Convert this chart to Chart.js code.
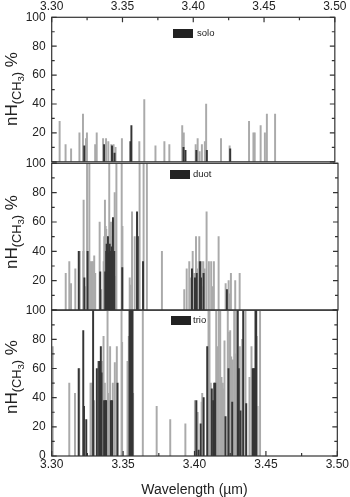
<!DOCTYPE html>
<html>
<head>
<meta charset="utf-8">
<script src="https://cdn.jsdelivr.net/npm/chart.js@4.4.0/dist/chart.umd.min.js"></script>
<style>
    body { margin: 0; background: #fff; }
    #wrap { position: relative; width: 350px; height: 497px; overflow: hidden; font-family: 'Liberation Sans', Arial, sans-serif; color: #222; }
    #wrap canvas { position: absolute; left: 0; }
    .ytitle { position: absolute; left: 12px; font-size: 17px; line-height: 17px; white-space: nowrap; transform: translate(-50%, -50%) rotate(-90deg); }
    .ytitle sub { font-size: 0.75em; vertical-align: -0.3em; line-height: 0; }
    .keybox { position: absolute; width: 20px; height: 9px; background: #222; }
    .keytxt { position: absolute; font-size: 9.5px; line-height: 10px; }
</style>
</head>
<body>
<div id="wrap">
    <canvas id="solo" width="350" height="175" style="top:0px"></canvas>
    <canvas id="duot" width="350" height="175" style="top:150px"></canvas>
    <canvas id="trio" width="350" height="200" style="top:297px"></canvas>

    <div class="ytitle" style="top:89px">nH<sub>(CH<sub>3</sub>)</sub> %</div>
    <div class="ytitle" style="top:232px">nH<sub>(CH<sub>3</sub>)</sub> %</div>
    <div class="ytitle" style="top:377px">nH<sub>(CH<sub>3</sub>)</sub> %</div>

    <div class="keybox" style="left:173px; top:29px"></div>
    <div class="keytxt" style="left:197px; top:28px">solo</div>
    <div class="keybox" style="left:170px; top:170px"></div>
    <div class="keytxt" style="left:193px; top:169px">duot</div>
    <div class="keybox" style="left:171px; top:316px"></div>
    <div class="keytxt" style="left:193px; top:315px">trio</div>
</div>
<script>
'use strict';

// [wavelength (µm), nH(CH3) %] - gray sticks and dark sticks for each group
var soloGray = [[3.3056, 28], [3.3098, 12], [3.3137, 9], [3.3196, 20], [3.3221, 33], [3.3242, 16], [3.3249, 20],
    [3.3307, 12], [3.3318, 20], [3.3363, 16], [3.3384, 16], [3.3400, 14], [3.3421, 12], [3.3437, 12], [3.3451, 10],
    [3.3496, 16], [3.3619, 14], [3.3654, 43], [3.3733, 11], [3.3796, 14], [3.3831, 12], [3.3922, 25],
    [3.3933, 20], [3.4017, 12], [3.4031, 16], [3.4045, 7], [3.4061, 12], [3.4082, 14], [3.4091, 40], [3.4196, 16],
    [3.4257, 11], [3.4394, 28], [3.4425, 20], [3.4434, 20], [3.4476, 25], [3.4506, 20], [3.4520, 33], [3.4578, 33]];
var soloDark = [[3.3230, 11], [3.3370, 12], [3.3426, 11], [3.3444, 6], [3.3556, 14], [3.3563, 25], [3.3931, 10],
    [3.3945, 8], [3.4022, 8], [3.4096, 8], [3.4261, 9]];

var duotGray = [[3.3098, 25], [3.3123, 33], [3.3135, 18], [3.3165, 28], [3.3196, 40], [3.3221, 40], [3.3223, 75],
    [3.3242, 16], [3.3247, 100], [3.3263, 100], [3.3270, 33], [3.3279, 33], [3.3288, 33], [3.3297, 37], [3.3304, 25],
    [3.3335, 60], [3.3346, 14], [3.3363, 33], [3.3367, 50], [3.3372, 75], [3.3377, 57], [3.3381, 55], [3.3386, 50],
    [3.3402, 100], [3.3409, 50], [3.3414, 60], [3.3423, 50], [3.3440, 80], [3.3449, 23], [3.3452, 100], [3.3489, 100],
    [3.3494, 57], [3.3545, 22], [3.3554, 17], [3.3561, 67], [3.3580, 50], [3.3607, 50], [3.3614, 100], [3.3642, 100],
    [3.3665, 100], [3.3770, 40],
    [3.3926, 14], [3.3943, 28], [3.3961, 33], [3.3968, 22], [3.3985, 40], [3.3994, 25], [3.4008, 50], [3.4020, 28],
    [3.4027, 33], [3.4031, 50], [3.4047, 33], [3.4052, 16], [3.4059, 33], [3.4068, 28], [3.4082, 67], [3.4098, 33],
    [3.4114, 33], [3.4126, 16], [3.4133, 33], [3.4166, 50], [3.4215, 18], [3.4236, 20], [3.4240, 11], [3.4252, 25],
    [3.4282, 20], [3.4313, 25]];
var duotDark = [[3.3189, 40], [3.3228, 22], [3.3251, 40], [3.3339, 26], [3.3374, 26], [3.3381, 40], [3.3384, 45],
    [3.3393, 50], [3.3400, 39], [3.3405, 45], [3.3410, 40], [3.3419, 43], [3.3428, 63], [3.3437, 40], [3.3493, 29],
    [3.3596, 67], [3.3601, 50], [3.3638, 33], [3.3980, 28], [3.4001, 22], [3.4013, 25], [3.4036, 33], [3.4043, 22],
    [3.4061, 25], [3.4224, 14]];

var trioGray = [[3.3007, 75], [3.3123, 50], [3.3163, 43], [3.3193, 60], [3.3272, 50], [3.3281, 50], [3.3297, 38],
    [3.3325, 65], [3.3339, 60], [3.3356, 65], [3.3363, 82], [3.3372, 50], [3.3391, 100], [3.3395, 43], [3.3409, 75],
    [3.3428, 50], [3.3442, 64], [3.3456, 75], [3.3489, 100], [3.3493, 78], [3.3531, 65], [3.3540, 82], [3.3570, 43],
    [3.3638, 100], [3.3735, 34], [3.3830, 25], [3.3936, 22],
    [3.4003, 38], [3.4022, 30], [3.4050, 37], [3.4054, 43], [3.4098, 100], [3.4105, 100], [3.4114, 50], [3.4152, 100],
    [3.4161, 75], [3.4170, 100], [3.4180, 100], [3.4189, 54], [3.4198, 50], [3.4205, 46], [3.4210, 79], [3.4233, 100],
    [3.4243, 85], [3.4250, 86], [3.4257, 68], [3.4268, 66], [3.4278, 100], [3.4282, 70], [3.4292, 100], [3.4317, 75],
    [3.4334, 80], [3.4357, 100], [3.4385, 54], [3.4399, 75], [3.4436, 82], [3.4441, 34], [3.4459, 100]];
var trioDark = [[3.3189, 60], [3.3221, 86], [3.3226, 34], [3.3242, 25], [3.3290, 100], [3.3316, 60], [3.3332, 65],
    [3.3344, 75], [3.3349, 57], [3.3367, 38], [3.3377, 38], [3.3381, 38], [3.3414, 38], [3.3423, 38], [3.3461, 50],
    [3.3545, 100], [3.3552, 100], [3.3559, 100], [3.3566, 100],
    [3.4013, 38], [3.4029, 4], [3.4043, 22], [3.4064, 40], [3.4089, 75], [3.4121, 46], [3.4131, 38], [3.4138, 50],
    [3.4145, 50], [3.4217, 27], [3.4238, 60], [3.4264, 37], [3.4303, 100], [3.4310, 60], [3.4322, 31], [3.4341, 100],
    [3.4362, 36], [3.4408, 60], [3.4415, 60], [3.4422, 60], [3.4427, 100], [3.4432, 100]];

var xTickValues = [3.30, 3.35, 3.40, 3.45, 3.50];
var yTickValues = [0, 20, 40, 60, 80, 100];

var grayColor = '#aaaaaa';
var darkColor = '#353535';
var tickFont = { family: "'Liberation Sans', Arial, sans-serif", size: 12 };

// box round each panel with inward ticks (minor ones halfway)
var framePlugin = {
    id: 'frame',
    afterDraw: function (chart, args, o) {
        var ctx = chart.ctx, a = chart.chartArea;
        var xs = chart.scales.x, ys = chart.scales.y;
        ctx.save();
        ctx.strokeStyle = '#333';
        ctx.lineWidth = 1.2;
        ctx.strokeRect(a.left, a.top, a.right - a.left, a.bottom - a.top);
        ctx.beginPath();
        for (var v = 0; v <= 100; v += 10) {
            var py = ys.getPixelForValue(v), len = v % 20 === 0 ? 5 : 3;
            ctx.moveTo(a.left, py); ctx.lineTo(a.left + len, py);
            ctx.moveTo(a.right, py); ctx.lineTo(a.right - len, py);
        }
        for (var i = 0; i <= 8; i++) {
            var px = xs.getPixelForValue(3.30 + i * 0.025), l = i % 2 === 0 ? 5 : 3;
            if (o.top) { ctx.moveTo(px, a.top); ctx.lineTo(px, a.top + l); }
            if (o.bottom) { ctx.moveTo(px, a.bottom); ctx.lineTo(px, a.bottom - l); }
        }
        ctx.stroke();
        ctx.restore();
    }
};

function toPoints(list) {
    return list.map(function (p) { return { x: p[0], y: p[1] }; });
}

function makePanel(id, name, gray, dark, opts) {
    var xShown = opts.xPos !== 'none';
    return new Chart(document.getElementById(id), {
        type: 'bar',
        data: {
            datasets: [{
                label: name,
                data: toPoints(dark),
                backgroundColor: darkColor,
                order: 0
            }, {
                label: name,
                data: toPoints(gray),
                backgroundColor: grayColor,
                order: 1
            }]
        },
        options: {
            responsive: false,
            animation: false,
            layout: { padding: opts.padding },
            datasets: { bar: { barThickness: 1.3, grouped: false, borderWidth: 0 } },
            plugins: {
                legend: { display: false },
                tooltip: { enabled: false },
                frame: { top: opts.xPos === 'top', bottom: opts.xPos === 'bottom' }
            },
            scales: {
                x: {
                    type: 'linear',
                    min: 3.30,
                    max: 3.50,
                    offset: false,
                    display: xShown,
                    position: xShown ? opts.xPos : 'bottom',
                    grid: { display: false, drawTicks: false },
                    border: { display: false },
                    ticks: {
                        color: '#222',
                        font: tickFont,
                        padding: opts.xPos === 'top' ? 3.5 : 1,
                        maxRotation: 0,
                        autoSkip: false,
                        callback: function (v) { return v.toFixed(2); }
                    },
                    afterBuildTicks: function (s) {
                        s.ticks = xTickValues.map(function (v) { return { value: v }; });
                    },
                    afterFit: function (s) { s.height = opts.xHeight; },
                    title: {
                        display: !!opts.xTitle,
                        text: opts.xTitle || '',
                        color: '#222',
                        font: { family: "'Liberation Sans', Arial, sans-serif", size: 14, lineHeight: 1 },
                        padding: { top: 0, bottom: 0 }
                    }
                },
                y: {
                    min: 0,
                    max: 100,
                    grid: { display: false, drawTicks: false },
                    border: { display: false },
                    ticks: {
                        color: '#222',
                        font: tickFont,
                        padding: 6,
                        autoSkip: false,
                        callback: function (v) { return (v === 0 && !opts.showZero) ? '' : v; }
                    },
                    afterBuildTicks: function (s) {
                        s.ticks = yTickValues.map(function (v) { return { value: v }; });
                    },
                    afterFit: function (s) { s.width = 51.7; }
                }
            }
        },
        plugins: [framePlugin]
    });
}

makePanel('solo', 'solo', soloGray, soloDark, {
    padding: { top: 0, left: 0, right: 12, bottom: 11.7 }, xPos: 'top', xHeight: 17.3
});
makePanel('duot', 'duot', duotGray, duotDark, {
    padding: { top: 13.3, left: 0, right: 12, bottom: 15 }, xPos: 'none', xHeight: 0
});
makePanel('trio', 'trio', trioGray, trioDark, {
    padding: { top: 13, left: 0, right: 12, bottom: 0 }, xPos: 'bottom', xHeight: 41,
    xTitle: 'Wavelength (µm)', showZero: true
});
</script>
</body>
</html>
